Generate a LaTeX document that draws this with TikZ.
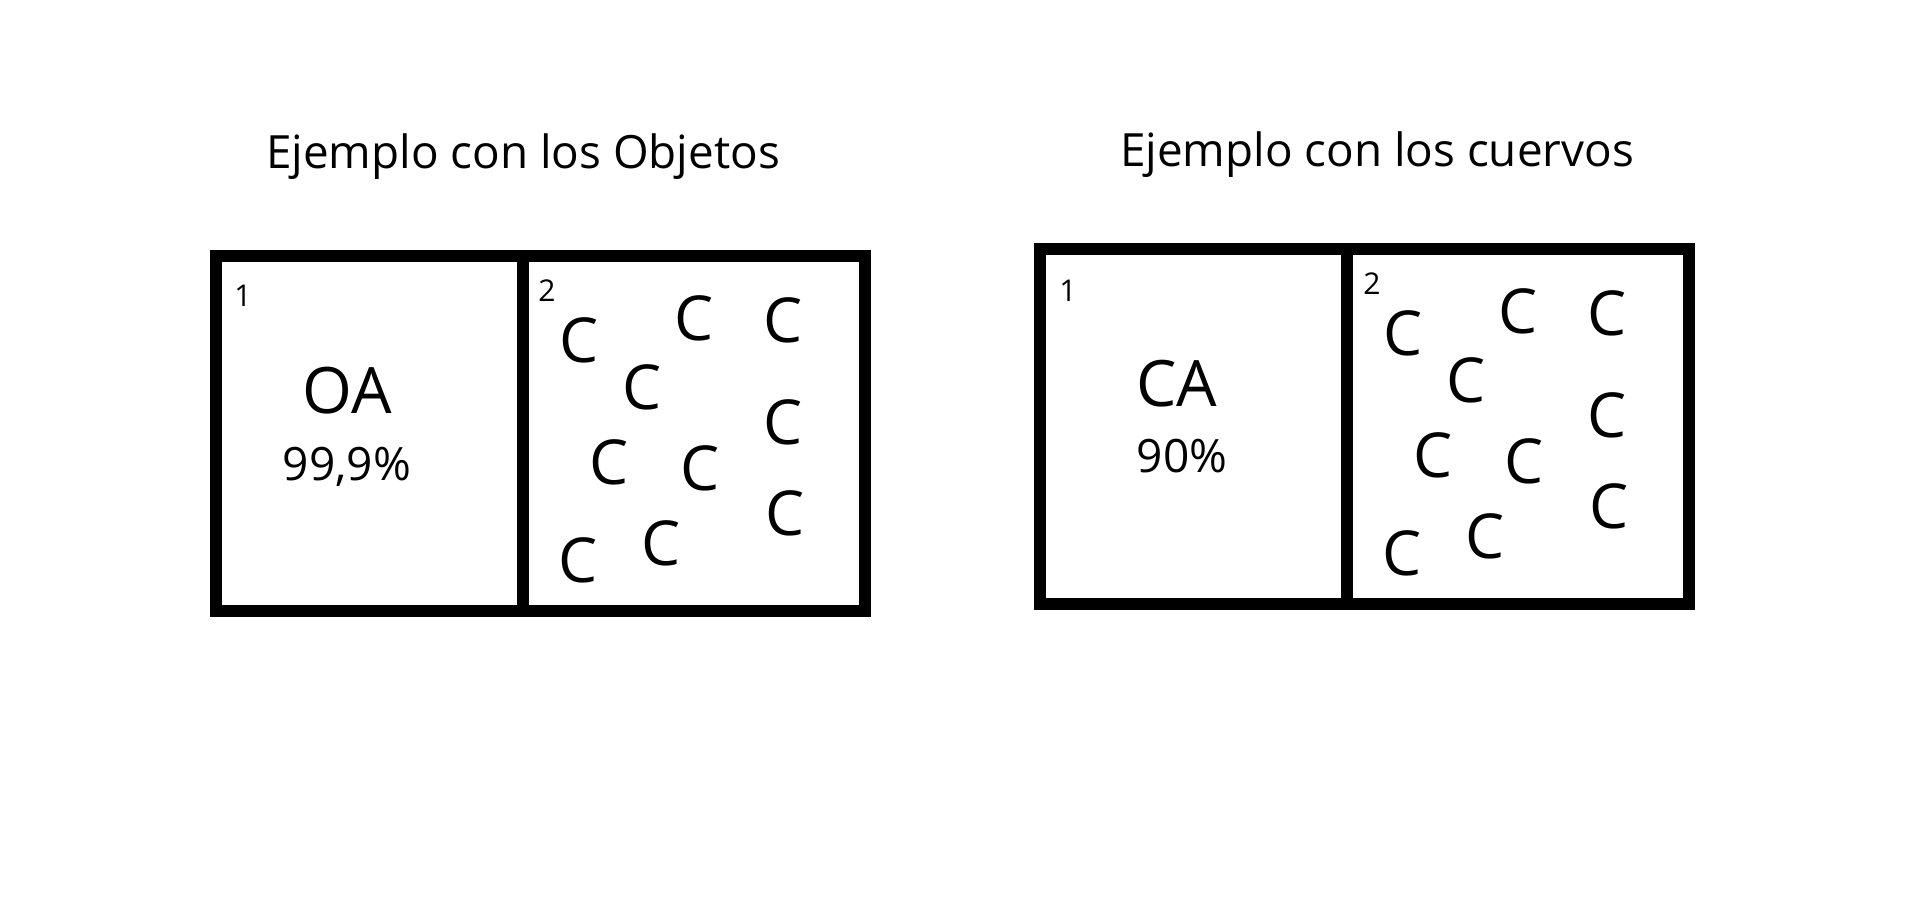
\documentclass[tikz,border=0pt]{standalone}
\usepackage{fontspec}
\setmainfont{Open Sans}
\begin{document}
\begin{tikzpicture}[
  x=0.5pt, y=-0.5pt,
  frame/.style={draw, line width=6pt},
  heading/.style={anchor=base, inner sep=0pt, font=\fontsize{22.9}{27}\selectfont},
  cellnum/.style={anchor=base, inner sep=0pt, font=\fontsize{15}{18}\selectfont},
  tag/.style={anchor=base, inner sep=0pt, font=\fontsize{32}{38}\selectfont},
  pct/.style={anchor=base, inner sep=0pt, font=\fontsize{23}{27}\selectfont},
  letterc/.style={inner sep=0pt, font=\fontsize{31}{36}\selectfont}
]
\useasboundingbox (0,0) rectangle (1920,900);

% left: objects
\node[heading] (titleL) at (523,168) {Ejemplo con los Objetos};
\draw[frame] (216,256) rectangle (865,611);
\draw[frame] (523,256) -- (523,611);
\node[cellnum] (oneL) at (243,306) {1};
\node[cellnum] (twoL) at (547,301) {2};
\node[tag] (oa) at (347,413) {OA};
\node[pct] (pctL) at (347,480) {99,9\%};
\foreach \cx/\cy [count=\i] in {579/340, 694/318, 783/320, 642/387, 783/422,
    609/462, 700/468, 785/513, 578/560, 661/543}
  \node[letterc] (cL\i) at (\cx,\cy) {C};

% right: crows
\node[heading] (titleR) at (1377,166) {Ejemplo con los cuervos};
\begin{scope}[shift={(824,-7)}]
  \draw[frame] (216,256) rectangle (865,611);
  \draw[frame] (523,256) -- (523,611);
  \node[cellnum] (oneR) at (244,308) {1};
  \node[cellnum] (twoR) at (548,301) {2};
  \node[tag] (ca) at (353,413) {CA};
  \node[pct] (pctR) at (358,479) {90\%};
  \foreach \cx/\cy [count=\i] in {579/340, 694/318, 783/320, 642/387, 783/422,
      609/462, 700/468, 785/513, 578/560, 661/543}
    \node[letterc] (cR\i) at (\cx,\cy) {C};
\end{scope}
\end{tikzpicture}
\end{document}
